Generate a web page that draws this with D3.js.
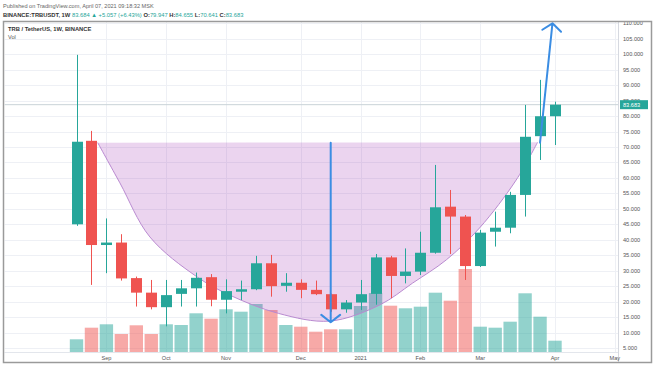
<!DOCTYPE html>
<html><head><meta charset="utf-8">
<script src="https://cdn.jsdelivr.net/npm/d3@7"></script>
<style>body{margin:0;background:#fff;} svg{display:block;font-family:"Liberation Sans",Arial,sans-serif;}</style>
</head><body><svg id="c" width="654" height="366"></svg>
<script>
// ---- data ----
const weeks = ["2020-08-24","2020-08-31","2020-09-07","2020-09-14","2020-09-21","2020-09-28","2020-10-05","2020-10-12","2020-10-19","2020-10-26","2020-11-02","2020-11-09","2020-11-16","2020-11-23","2020-11-30","2020-12-07","2020-12-14","2020-12-21","2020-12-28","2021-01-04","2021-01-11","2021-01-18","2021-01-25","2021-02-01","2021-02-08","2021-02-15","2021-02-22","2021-03-01","2021-03-08","2021-03-15","2021-03-22","2021-03-29","2021-04-05"];
const open  = [45.0,72.0,38.3,39.1,27.6,22.9,18.2,22.5,24.3,27.9,20.6,23.2,24.0,32.4,25.1,26.1,23.8,22.4,17.5,19.7,22.5,34.3,28.3,29.7,35.8,50.7,47.5,31.5,42.6,43.9,54.5,73.5,79.947];
const high  = [99.8,75.2,46.9,41.8,28.1,27.0,27.0,27.0,29.4,28.9,27.2,26.8,34.8,35.1,29.2,27.2,26.8,22.6,20.5,27.0,35.4,34.8,37.2,42.6,64.2,56.1,48.0,43.2,49.1,55.5,83.6,91.7,84.655];
const low   = [44.5,25.4,29.2,26.8,18.4,17.5,12.0,18.4,18.4,18.5,16.2,20.5,23.7,21.6,23.2,21.1,22.1,16.7,16.4,17.3,19.0,21.1,25.9,28.6,35.5,35.4,27.0,31.2,37.8,42.1,47.5,65.8,70.641];
const close = [71.7,38.3,39.1,27.5,22.9,18.2,22.1,24.3,27.7,20.6,23.4,24.0,32.4,25.0,26.1,23.8,22.4,17.5,19.7,22.4,34.3,28.3,29.7,35.8,50.5,47.5,31.5,42.3,43.9,54.5,73.3,79.947,83.683];
const volume = [127,243,277,180,267,180,277,270,387,333,427,403,480,420,270,253,203,227,227,460,590,463,437,453,593,513,830,253,243,303,587,353,113];
const priceTicks = [5,10,15,20,25,30,35,40,45,50,55,60,65,70,75,80,85,90,95,100,105,110];
const monthTickDates = ["2020-09-07","2020-10-05","2020-11-02","2020-12-07","2021-01-04","2021-02-01","2021-03-01","2021-04-05","2021-05-03"];
const monthLabels = ["Sep","Oct","Nov","Dec","2021","Feb","Mar","Apr","May"];
// cup drawing anchors: [week index, price]
const cupPoints = [[1.42,71.4],[2.9,58.4],[4.91,40.9],[8.03,28.1],[10.25,22.1],[13.5,16.2],[16.93,13.7],[20.27,18.9],[22.48,26.0],[24.73,33.5],[26.95,43.8],[29.4,59.3],[30.83,71.5]];
const arrowDown = [[17.0,71.4],[17.0,13.3]];
const arrowUp = [[31.0,71.4],[31.83,110.0]];
const lastPrice = 83.683;

// ---- layout ----
const W=654,H=366;
const plotL=4.5, plotR=618, plotT=22, plotB=352;
const GREEN="#26a69a", RED="#ef5350";
const parse=d3.utcParse("%Y-%m-%d");
const dates=weeks.map(parse);
const x=d3.scaleUtc().domain([dates[0],dates[dates.length-1]]).range([76.5,555]);
const xi=i=>x(new Date(dates[0].getTime()+i*7*864e5));
const y=d3.scaleLinear().domain([5,110]).range([348,23.3]);
const yv=d3.scaleLinear().domain([0,d3.max(volume)]).range([plotB,269]);
const step=x(dates[1])-x(dates[0]);
const svg=d3.select("#c");

// header
const t1=svg.append("text").attr("x",3).attr("y",8).attr("font-size",5.6).attr("fill","#666").text("Published on TradingView.com, April 07, 2021 09:18:32 MSK");
const t2=svg.append("text").attr("x",3).attr("y",17).attr("font-size",5.8);
const parts=[["BINANCE:TRBUSDT, 1W ","#333",700],["83.684 ▲ +5.057 (+6.43%) ",GREEN,400],["O:","#333",700],["79.947 ",GREEN,400],["H:","#333",700],["84.655 ",GREEN,400],["L:","#333",700],["70.641 ",GREEN,400],["C:","#333",700],["83.683",GREEN,400]];
parts.forEach(p=>t2.append("tspan").attr("fill",p[1]).attr("font-weight",p[2]).text(p[0]));

// clip
svg.append("clipPath").attr("id","pc").append("rect").attr("x",plotL).attr("y",plotT).attr("width",plotR-plotL).attr("height",plotB-plotT);
const g=svg.append("g").attr("clip-path","url(#pc)");

// grid
g.selectAll(".hg").data(priceTicks).join("line").attr("x1",plotL).attr("x2",plotR).attr("y1",d=>Math.round(y(d))+0.5).attr("y2",d=>Math.round(y(d))+0.5).attr("stroke","#eef0f5");
g.selectAll(".vg").data(monthTickDates).join("line").attr("y1",plotT).attr("y2",plotB).attr("x1",d=>Math.round(x(parse(d)))+0.5).attr("x2",d=>Math.round(x(parse(d)))+0.5).attr("stroke","#eef0f5");

// volume
g.selectAll(".vol").data(volume).join("rect").attr("x",(d,i)=>x(dates[i])-step/2+0.8).attr("width",step-1.6)
 .attr("y",d=>yv(d)).attr("height",d=>plotB-yv(d))
 .attr("fill",(d,i)=>close[i]>=open[i]?GREEN:RED).attr("fill-opacity",0.5);

// cup
const cupLine=d3.line().x(d=>xi(d[0])).y(d=>y(d[1])).curve(d3.curveCatmullRom.alpha(0.5));
g.append("path").attr("d",cupLine(cupPoints)+"Z").attr("fill","#9c27b0").attr("fill-opacity",0.2).attr("stroke","none");
g.append("path").attr("d",cupLine(cupPoints)).attr("fill","none").attr("stroke","#b98ad0").attr("stroke-width",1);

// last price line
g.append("line").attr("x1",plotL).attr("x2",plotR).attr("y1",y(lastPrice)).attr("y2",y(lastPrice)).attr("stroke","#c9d3d8").attr("stroke-width",1);

// candles
const cg=g.selectAll(".cd").data(dates).join("g");
cg.append("line").attr("x1",(d,i)=>Math.round(x(d))+0.5).attr("x2",(d,i)=>Math.round(x(d))+0.5)
 .attr("y1",(d,i)=>y(high[i])).attr("y2",(d,i)=>y(low[i])).attr("stroke",(d,i)=>close[i]>=open[i]?GREEN:RED).attr("stroke-width",1);
cg.append("rect").attr("x",(d,i)=>Math.round(x(d))+0.5-5.5).attr("width",11)
 .attr("y",(d,i)=>y(Math.max(open[i],close[i])))
 .attr("height",(d,i)=>Math.max(1.5,Math.abs(y(open[i])-y(close[i]))))
 .attr("fill",(d,i)=>close[i]>=open[i]?GREEN:RED);

// arrows
function arrow(pts){
  const x0=xi(pts[0][0]),y0=y(pts[0][1]),x1=xi(pts[1][0]),y1=y(pts[1][1]);
  const a=Math.atan2(y0-y1,x0-x1), L=12, s=0.9;
  const path=d3.path();
  path.moveTo(x0,y0);path.lineTo(x1,y1);
  path.moveTo(x1+L*Math.cos(a+s),y1+L*Math.sin(a+s));path.lineTo(x1,y1);path.lineTo(x1+L*Math.cos(a-s),y1+L*Math.sin(a-s));
  g.append("path").attr("d",path.toString()).attr("fill","none").attr("stroke","#3b8de3").attr("stroke-width",2).attr("stroke-linecap","round").attr("stroke-linejoin","round");
}
arrow(arrowDown);arrow(arrowUp);

// pane legends
svg.append("text").attr("x",8).attr("y",31).attr("font-size",5.8).attr("font-weight",700).attr("fill","#333").text("TRB / TetherUS, 1W, BINANCE");
svg.append("text").attr("x",8).attr("y",39).attr("font-size",5.6).attr("fill","#555").text("Vol");

// separators
svg.append("line").attr("x1",plotR+0.5).attr("x2",plotR+0.5).attr("y1",plotT).attr("y2",362).attr("stroke","#d6d9e0");
svg.append("line").attr("x1",plotL).attr("x2",plotR).attr("y1",plotB+0.5).attr("y2",plotB+0.5).attr("stroke","#e3e6ec");

// price axis
svg.selectAll(".pt").data(priceTicks).join("text").attr("x",623).attr("y",d=>y(d)+2).attr("font-size",5.6).attr("fill","#555").text(d=>d3.format(".3f")(d));
// time axis
svg.selectAll(".mt").data(monthTickDates).join("text").attr("x",d=>x(parse(d))).attr("y",359.5).attr("text-anchor","middle").attr("font-size",5.6).attr("fill","#555").text((d,i)=>monthLabels[i]);

// last price label
svg.append("rect").attr("x",620).attr("y",y(lastPrice)-4.5).attr("width",28).attr("height",9).attr("fill",GREEN);
svg.append("text").attr("x",623).attr("y",y(lastPrice)+2).attr("font-size",5.6).attr("fill","#fff").text(d3.format(".3f")(lastPrice));

// frame
svg.append("rect").attr("x",3.5).attr("y",21.5).attr("width",648).attr("height",341).attr("fill","none").attr("stroke","#9a9a9a").attr("stroke-width",1.5);
</script></body></html>
